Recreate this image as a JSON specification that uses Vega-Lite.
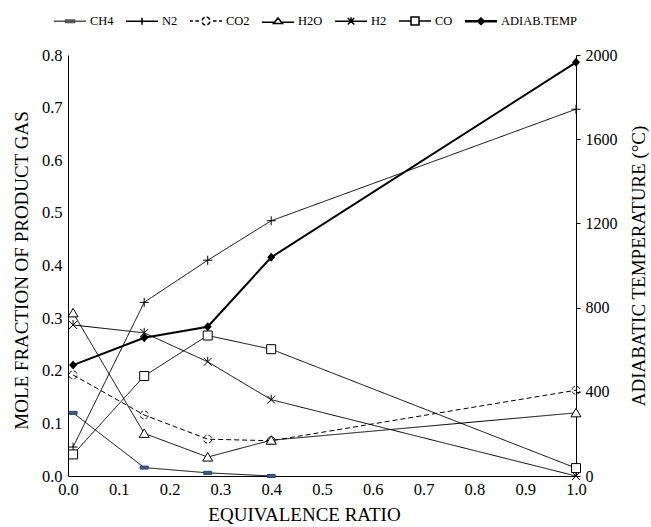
{
  "$schema": "https://vega.github.io/schema/vega-lite/v6.json",
  "width": 508,
  "height": 421,
  "autosize": "none",
  "padding": {"left": 68, "top": 55, "right": 75, "bottom": 51},
  "background": "white",
  "config": {
    "view": {"stroke": null},
    "font": "Liberation Serif",
    "style": {
      "guide-label": {"font": "Liberation Serif", "fill": "black"},
      "guide-title": {"font": "Liberation Serif", "fill": "black", "fontWeight": "normal"}
    },
    "axis": {
      "labelFont": "Liberation Serif",
      "titleFont": "Liberation Serif",
      "labelColor": "black",
      "titleColor": "black",
      "domainColor": "black",
      "tickColor": "black",
      "grid": false,
      "labelFontSize": 16.5,
      "titleFontSize": 19,
      "titleFontWeight": "normal"
    },
    "legend": {"labelFont": "Liberation Serif", "labelColor": "black"}
  },
  "data": {
    "values": [
      {"phi": 0.01, "series": "CH4", "value": 0.12},
      {"phi": 0.15, "series": "CH4", "value": 0.016},
      {"phi": 0.275, "series": "CH4", "value": 0.006},
      {"phi": 0.4, "series": "CH4", "value": 0.0},
      {"phi": 0.01, "series": "N2", "value": 0.055},
      {"phi": 0.15, "series": "N2", "value": 0.33},
      {"phi": 0.275, "series": "N2", "value": 0.41},
      {"phi": 0.4, "series": "N2", "value": 0.485},
      {"phi": 1.0, "series": "N2", "value": 0.697},
      {"phi": 0.01, "series": "CO2", "value": 0.192},
      {"phi": 0.15, "series": "CO2", "value": 0.116},
      {"phi": 0.275, "series": "CO2", "value": 0.07},
      {"phi": 0.4, "series": "CO2", "value": 0.067},
      {"phi": 1.0, "series": "CO2", "value": 0.163},
      {"phi": 0.01, "series": "H2O", "value": 0.31},
      {"phi": 0.15, "series": "H2O", "value": 0.081},
      {"phi": 0.275, "series": "H2O", "value": 0.036},
      {"phi": 0.4, "series": "H2O", "value": 0.068},
      {"phi": 1.0, "series": "H2O", "value": 0.12},
      {"phi": 0.01, "series": "H2", "value": 0.287},
      {"phi": 0.15, "series": "H2", "value": 0.272},
      {"phi": 0.275, "series": "H2", "value": 0.217},
      {"phi": 0.4, "series": "H2", "value": 0.145},
      {"phi": 1.0, "series": "H2", "value": 0.0},
      {"phi": 0.01, "series": "CO", "value": 0.041},
      {"phi": 0.15, "series": "CO", "value": 0.19},
      {"phi": 0.275, "series": "CO", "value": 0.267},
      {"phi": 0.4, "series": "CO", "value": 0.241},
      {"phi": 1.0, "series": "CO", "value": 0.015},
      {"phi": 0.01, "series": "ADIAB.TEMP", "value": 527},
      {"phi": 0.15, "series": "ADIAB.TEMP", "value": 657},
      {"phi": 0.275, "series": "ADIAB.TEMP", "value": 709},
      {"phi": 0.4, "series": "ADIAB.TEMP", "value": 1039},
      {"phi": 1.0, "series": "ADIAB.TEMP", "value": 1965}
    ]
  },
  "layer": [
    {
      "transform": [{"filter": "datum.series !== 'ADIAB.TEMP'"}],
      "encoding": {
        "x": {
          "field": "phi", "type": "quantitative",
          "scale": {"domain": [0, 1], "nice": false, "zero": false},
          "axis": {"values": [0, 0.1, 0.2, 0.3, 0.4, 0.5, 0.6, 0.7, 0.8, 0.9, 1.0], "format": ".1f", "ticks": false, "labelPadding": 5, "title": "EQUIVALENCE RATIO", "titlePadding": 8, "titleX": 236, "labelFlush": false, "labelFont": "Liberation Serif", "titleFont": "Liberation Serif"}
        },
        "y": {
          "field": "value", "type": "quantitative",
          "scale": {"domain": [0, 0.8], "nice": false},
          "axis": {"values": [0, 0.1, 0.2, 0.3, 0.4, 0.5, 0.6, 0.7, 0.8], "format": ".1f", "ticks": false, "labelPadding": 6, "title": "MOLE FRACTION OF PRODUCT GAS", "titlePadding": 10, "titleY": 215, "labelFont": "Liberation Serif", "titleFont": "Liberation Serif"}
        }
      },
      "layer": [
        {
          "mark": {"type": "line", "color": "black", "strokeWidth": 1},
          "encoding": {
            "detail": {"field": "series"},
            "strokeDash": {
              "field": "series", "type": "nominal",
              "scale": {"domain": ["CH4", "N2", "CO2", "H2O", "H2", "CO"], "range": [[1, 0], [1, 0], [5, 3], [1, 0], [1, 0], [1, 0]]},
              "legend": null
            }
          }
        },
        {
          "mark": {"type": "point", "filled": false, "opacity": 1, "strokeWidth": 1, "size": 100},
          "encoding": {
            "shape": {
              "field": "series", "type": "nominal",
              "scale": {
                "domain": ["CH4", "N2", "CO2", "H2O", "H2", "CO"],
                "range": [
                  "M-0.8,-0.3H0.8V0.3H-0.8Z",
                  "M-0.9,0H0.9M0,-0.9V0.9",
                  "M0.788,0.139A0.8,0.8 0 0,1 0.274,0.752M-0.139,0.788A0.8,0.8 0 0,1 -0.752,0.274M-0.788,-0.139A0.8,0.8 0 0,1 -0.274,-0.752M0.139,-0.788A0.8,0.8 0 0,1 0.752,-0.274",
                  "M0,-0.9L1,0.8H-1Z",
                  "M-0.8,-0.8L0.8,0.8M-0.8,0.8L0.8,-0.8M0,-1V0",
                  "M-0.9,-0.9H0.9V0.9H-0.9Z"
                ]
              },
              "legend": null
            },
            "fill": {
              "field": "series", "type": "nominal",
              "scale": {"domain": ["CH4", "N2", "CO2", "H2O", "H2", "CO"], "range": ["#3b5b8c", "transparent", "transparent", "white", "transparent", "white"]},
              "legend": null
            },
            "stroke": {
              "field": "series", "type": "nominal",
              "scale": {"domain": ["CH4", "N2", "CO2", "H2O", "H2", "CO"], "range": ["#2c4466", "black", "black", "black", "black", "black"]},
              "legend": null
            }
          }
        }
      ]
    },
    {
      "transform": [{"filter": "datum.series === 'ADIAB.TEMP'"}],
      "encoding": {
        "x": {"field": "phi", "type": "quantitative"},
        "y": {
          "field": "value", "type": "quantitative",
          "scale": {"domain": [0, 2000], "nice": false},
          "axis": {"orient": "right", "values": [0, 400, 800, 1200, 1600, 2000], "format": "d", "tickSize": 4, "labelPadding": 5, "labelFontSize": 16, "title": "ADIABATIC TEMPERATURE (°C)", "titleAngle": 270, "titleBaseline": "bottom", "titlePadding": 31, "labelFont": "Liberation Serif", "titleFont": "Liberation Serif"}
        }
      },
      "layer": [
        {"mark": {"type": "line", "color": "black", "strokeWidth": 2}, "encoding": {}},
        {
          "mark": {"type": "point", "filled": true, "opacity": 1, "size": 100, "color": "black", "strokeWidth": 1, "shape": "M0,-0.9L0.8,0L0,0.9L-0.8,0Z"},
          "encoding": {}
        }
      ]
    },
    {
      "mark": {"type": "point", "opacity": 0, "size": 1, "filled": false},
      "encoding": {
        "shape": {
          "field": "series", "type": "nominal",
          "scale": {
            "domain": ["CH4", "N2", "CO2", "H2O", "H2", "CO", "ADIAB.TEMP"],
            "range": [
              "M-1,0H1M-0.28,-0.06H0.28M-0.28,0.06H0.28M-0.28,-0.08H0.28V0.08H-0.28Z",
              "M-1,0H1M0,-0.22V0.22",
              "M-1,0H-0.82M-0.66,0H-0.44M0.44,0H0.66M0.82,0H1M0.246,0.043A0.25,0.25 0 0,1 0.086,0.235M-0.043,0.246A0.25,0.25 0 0,1 -0.235,0.086M-0.246,-0.043A0.25,0.25 0 0,1 -0.086,-0.235M0.043,-0.246A0.25,0.25 0 0,1 0.235,-0.086",
              "M-1,0.06H-0.25M0.25,0.06H1M0,-0.2L0.28,0.14H-0.28Z",
              "M-1,0H1M-0.2,-0.2L0.2,0.2M-0.2,0.2L0.2,-0.2M0,-0.25V0",
              "M-1,0H-0.25M0.25,0H1M-0.25,-0.25H0.25V0.25H-0.25Z",
              "M-1,-0.03H1M-1,0.03H1M0,-0.2L0.22,0L0,0.2L-0.22,0ZM0,-0.15L0.16,0L0,0.15L-0.16,0ZM0,-0.1L0.11,0L0,0.1L-0.11,0ZM0,-0.05L0.05,0L0,0.05L-0.05,0Z"
            ]
          },
          "legend": {
            "title": null,
            "orient": "none",
            "direction": "horizontal",
            "legendX": -15,
            "legendY": -51,
            "padding": 0,
            "symbolSize": 1024,
            "labelFontSize": 12.5,
            "labelFont": "Liberation Serif",
            "labelOffset": 3,
            "columnPadding": 9,
            "encode": {
              "symbols": {
                "update": {
                  "size": {"value": 1024},
                  "opacity": {"value": 1}
                }
              }
            }
          }
        },
        "fill": {
          "field": "series", "type": "nominal",
          "scale": {"domain": ["CH4", "N2", "CO2", "H2O", "H2", "CO", "ADIAB.TEMP"], "range": ["#3b5b8c", "transparent", "transparent", "white", "transparent", "white", "black"]},
          "legend": null
        },
        "stroke": {
          "field": "series", "type": "nominal",
          "scale": {"domain": ["CH4", "N2", "CO2", "H2O", "H2", "CO", "ADIAB.TEMP"], "range": ["#555555", "black", "black", "black", "black", "black", "black"]},
          "legend": null
        }
      }
    }
  ],
  "resolve": {"scale": {"y": "independent", "shape": "independent", "fill": "independent", "stroke": "independent"}}
}
